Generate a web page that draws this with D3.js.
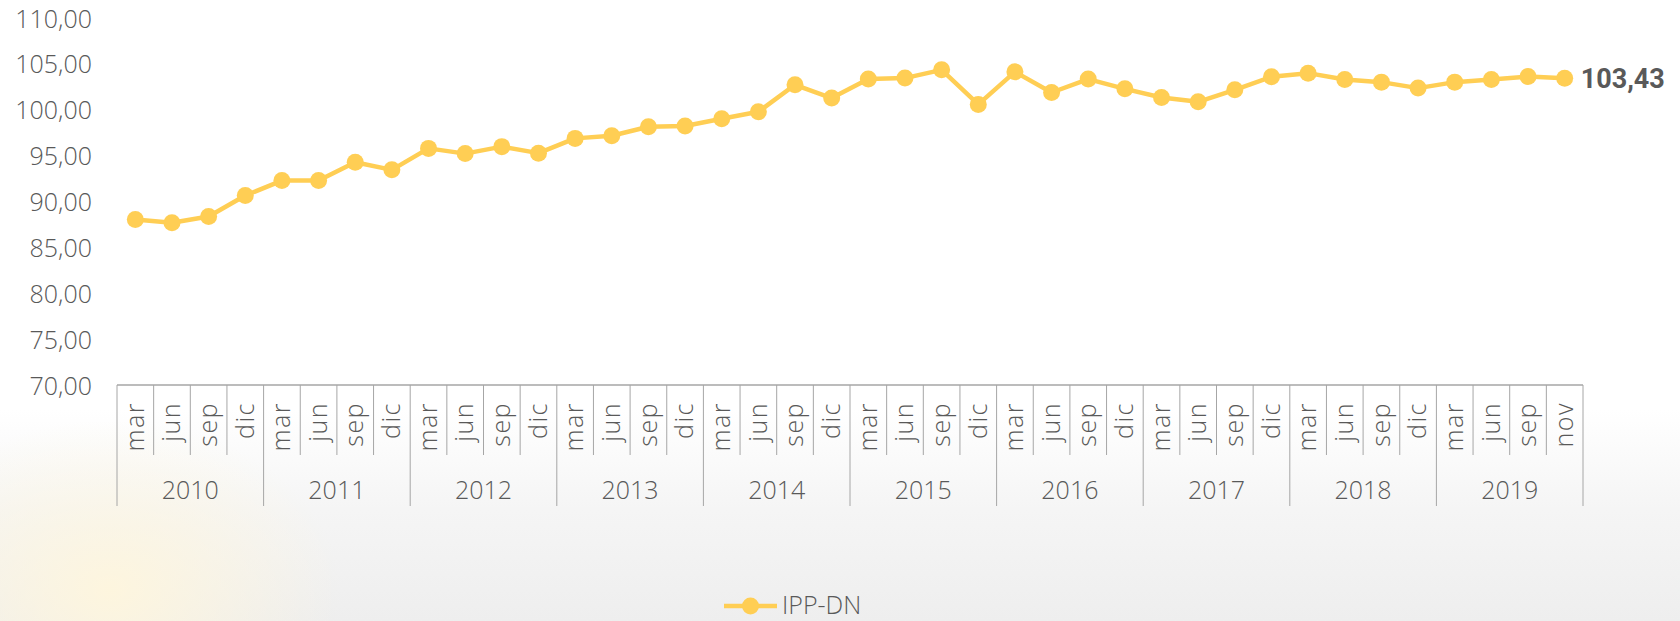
<!DOCTYPE html>
<html>
<head>
<meta charset="utf-8">
<script src="https://cdn.jsdelivr.net/npm/d3@7"></script>
<style>
  html, body { margin: 0; padding: 0; background: #fff; }
  svg { display: block; }
  text { font-family: "Open Sans", "DejaVu Sans", sans-serif; font-weight: 300; fill: #595959; }
</style>
</head>
<body>
<div id="chart"></div>
<script>
// IPP-DN index, quarterly, 2010 - nov 2019

const years = ['2010', '2011', '2012', '2013', '2014', '2015', '2016', '2017', '2018', '2019'];
const months = ['mar', 'jun', 'sep', 'dic'];
const lastYearMonths = ['mar', 'jun', 'sep', 'nov'];
const seriesName = 'IPP-DN';
const values = [
  88.04, 87.68, 88.37, 90.65,   // 2010
  92.28, 92.30, 94.27, 93.45,   // 2011
  95.79, 95.22, 95.98, 95.27,   // 2012
  96.88, 97.17, 98.15, 98.23,   // 2013
  99.02, 99.78, 102.72, 101.27, // 2014
  103.34, 103.45, 104.35, 100.58, // 2015
  104.13, 101.88, 103.34, 102.28, // 2016
  101.34, 100.87, 102.17, 103.59, // 2017
  103.99, 103.29, 103.01, 102.36, // 2018
  103.01, 103.29, 103.62, 103.43  // 2019
];
const yTicks = [70, 75, 80, 85, 90, 95, 100, 105, 110];

const width = 1680, height = 621;
const lineColor = '#ffce54';

const locale = d3.formatLocale({ decimal: ',', thousands: '.', grouping: [3], currency: ['', ''] });
const fmt = locale.format('.2f');

// categories: one per quarter, grouped by year
const cats = years.flatMap(yr =>
  (yr === '2019' ? lastYearMonths : months).map(m => ({ year: yr, month: m, key: yr + '-' + m }))
);
const rows = cats.map((c, i) => ({ ...c, value: values[i] }));

const svg = d3.select('#chart')
  .append('svg')
    .attr('width', width)
    .attr('height', height);

// Background (soft grey lower part with a warm glow)
const defs = svg.append('defs');
const bg = defs.append('linearGradient')
  .attr('id', 'bg').attr('x1', 0).attr('y1', 0).attr('x2', 0).attr('y2', 1);
bg.append('stop').attr('offset', '0%').attr('stop-color', '#ffffff');
bg.append('stop').attr('offset', '66%').attr('stop-color', '#ffffff');
bg.append('stop').attr('offset', '82%').attr('stop-color', '#f5f5f5');
bg.append('stop').attr('offset', '100%').attr('stop-color', '#eeeeee');

const glow = defs.append('radialGradient').attr('id', 'glow');
glow.append('stop').attr('offset', '0%').attr('stop-color', '#fff6dc').attr('stop-opacity', 0.9);
glow.append('stop').attr('offset', '100%').attr('stop-color', '#fff6dc').attr('stop-opacity', 0);

svg.append('rect').attr('width', width).attr('height', height).attr('fill', 'url(#bg)');
svg.append('ellipse')
  .attr('cx', 110).attr('cy', 590).attr('rx', 230).attr('ry', 170)
  .attr('fill', 'url(#glow)');

// Scales
const x = d3.scaleBand()
  .domain(cats.map(c => c.key))
  .range([117, 1583])
  .padding(0);

const y = d3.scaleLinear()
  .domain([70, 110])
  .range([385, 18]);

const cx = k => x(k) + x.bandwidth() / 2;

// Y axis (labels only)
const yAxis = svg.append('g')
  .attr('transform', 'translate(92,0)')
  .call(d3.axisLeft(y).tickValues(yTicks).tickFormat(fmt).tickSize(0).tickPadding(0));
yAxis.select('.domain').remove();
yAxis.selectAll('text')
  .attr('dy', '0.36em')
  .style('font-family', '"Open Sans", sans-serif')
  .style('font-weight', 300)
  .style('font-size', '25px')
  .attr('fill', '#595959');

// Multi-level category axis
const axisG = svg.append('g').attr('class', 'x-axis');
const x0 = x.range()[0], x1 = x.range()[1];
const monthBottom = 455, yearBottom = 506;

axisG.append('line')
  .attr('x1', x0).attr('x2', x1)
  .attr('y1', y(70)).attr('y2', y(70))
  .attr('stroke', '#a6a6a6').attr('stroke-width', 1.5);

// month separators
axisG.selectAll('line.msep')
  .data(cats.filter((c, i) => i % 4 !== 0))
  .join('line')
    .attr('class', 'msep')
    .attr('x1', d => x(d.key)).attr('x2', d => x(d.key))
    .attr('y1', y(70)).attr('y2', monthBottom)
    .attr('stroke', '#a6a6a6').attr('stroke-width', 1);

// year separators (incl. both edges)
const yearEdges = years.map(yr => x(cats.find(c => c.year === yr).key)).concat([x1]);
axisG.selectAll('line.ysep')
  .data(yearEdges)
  .join('line')
    .attr('class', 'ysep')
    .attr('x1', d => d).attr('x2', d => d)
    .attr('y1', y(70)).attr('y2', yearBottom)
    .attr('stroke', '#a6a6a6').attr('stroke-width', 1);

axisG.selectAll('text.month')
  .data(cats)
  .join('text')
    .attr('class', 'month')
    .attr('transform', d => `translate(${cx(d.key)},402) rotate(-90)`)
    .attr('text-anchor', 'end')
    .attr('dy', '0.33em')
    .style('font-size', '25px')
    .style('letter-spacing', '1.5px')
    .text(d => d.month);

axisG.selectAll('text.year')
  .data(years)
  .join('text')
    .attr('class', 'year')
    .attr('x', yr => {
      const ks = cats.filter(c => c.year === yr);
      return (x(ks[0].key) + x(ks[ks.length - 1].key) + x.bandwidth()) / 2;
    })
    .attr('y', 499)
    .attr('text-anchor', 'middle')
    .style('font-size', '25px')
    .text(yr => yr);

// Series line + markers
const line = d3.line()
  .x(d => cx(d.key))
  .y(d => y(d.value));

svg.append('path')
  .datum(rows)
  .attr('fill', 'none')
  .attr('stroke', lineColor)
  .attr('stroke-width', 4.5)
  .attr('stroke-linejoin', 'round')
  .attr('d', line);

svg.append('g')
  .selectAll('circle')
  .data(rows)
  .join('circle')
    .attr('cx', d => cx(d.key))
    .attr('cy', d => y(d.value))
    .attr('r', 8.5)
    .attr('fill', lineColor);

// Last value label
const last = rows[rows.length - 1];
svg.append('text')
  .attr('x', cx(last.key) + 16)
  .attr('y', y(last.value))
  .attr('dy', '0.36em')
  .style('font-family', 'Roboto, "Liberation Sans", sans-serif')
  .style('font-weight', 'bold')
  .style('font-size', '27px')
  .text(fmt(last.value));

// Legend
const lg = svg.append('g').attr('transform', 'translate(724,606)');
lg.append('line')
  .attr('x1', 0).attr('x2', 53)
  .attr('stroke', lineColor).attr('stroke-width', 4.5);
lg.append('circle')
  .attr('cx', 26.5).attr('r', 8.5)
  .attr('fill', lineColor);
lg.append('text')
  .attr('x', 58)
  .attr('y', 8)
  .style('font-size', '25px')
  .text(seriesName);
</script>
</body>
</html>
